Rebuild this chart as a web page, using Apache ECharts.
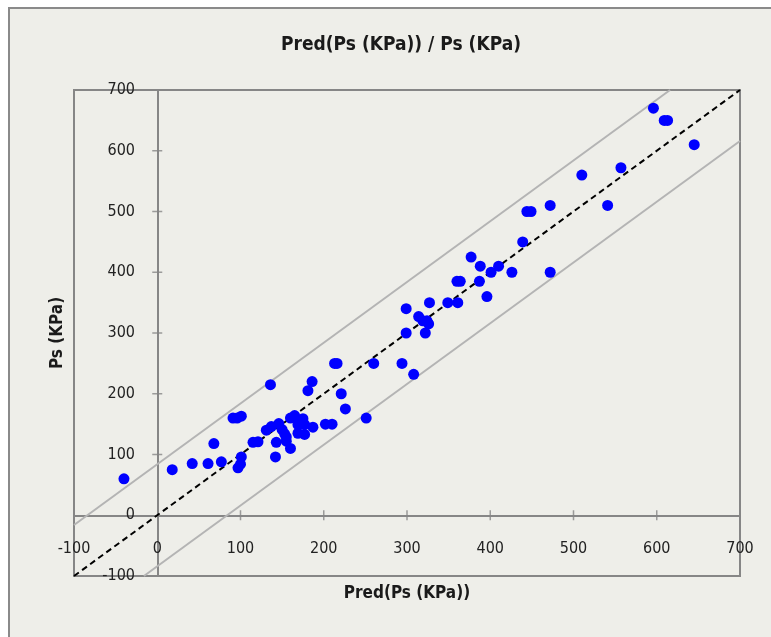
<!DOCTYPE html>
<html>
<head>
<meta charset="utf-8">
<script src="https://cdn.jsdelivr.net/npm/echarts@6/dist/echarts.min.js"></script>
<style>
html,body{margin:0;padding:0;background:#ffffff;}
#chart{width:771px;height:637px;}
</style>
</head>
<body>
<div id="chart"></div>
<script>
// Predicted vs measured Ps (KPa)
const predPs = [-40, 18, 42, 61, 68, 77, 91, 96, 101, 101, 100, 97, 115, 121, 131, 136, 137, 142, 143, 146, 150, 153, 155, 155, 160, 160, 165, 169, 169, 175, 177, 181, 177, 186, 187, 202, 210, 213, 216, 221, 226, 251, 260, 294, 308, 299, 299, 314, 319, 324, 322, 326, 327, 349, 360, 364, 361, 377, 387, 388, 396, 401, 410, 426, 439, 444, 449, 472, 472, 510, 541, 557, 596, 609, 613, 645];
const measPs = [60, 75, 85, 85, 118, 88, 160, 160, 163, 96, 84, 78, 120, 121, 140, 215, 146, 96, 120, 151, 141, 134, 122, 129, 110, 160, 164, 149, 135, 159, 133, 205, 149, 220, 145, 150, 150, 250, 250, 200, 175, 160, 250, 250, 232, 300, 340, 327, 320, 320, 300, 315, 350, 350, 385, 385, 350, 425, 385, 410, 360, 400, 410, 400, 450, 500, 500, 400, 510, 560, 510, 572, 670, 650, 650, 610];
const identityLine = [[-100, -100], [700, 700]];
const upperBound = [[-100, -16], [616, 700]];
const lowerBound = [[-16, -100], [700, 616]];
const axisTicks = [-100, 0, 100, 200, 300, 400, 500, 600, 700];
const crossTicks = [100, 200, 300, 400, 500, 600];

const points = predPs.map((x, i) => [x, measPs[i]]);
const xTickMarks = crossTicks.map(v => [v, 0]);
const yTickMarks = crossTicks.map(v => [0, v]);
const FONT = '"DejaVu Sans Condensed", "Liberation Sans Narrow", sans-serif';
const AX = '#868686';

const chart = echarts.init(document.getElementById('chart'), null, {renderer: 'canvas'});

chart.setOption({
  backgroundColor: '#ffffff',
  animation: false,
  graphic: [{
    type: 'rect', z: -100, zlevel: 0,
    shape: {x: 9, y: 8, width: 800, height: 700},
    style: {fill: '#EEEEE9', stroke: '#8a8a8a', lineWidth: 2},
    silent: true
  }],
  title: {
    text: 'Pred(Ps (KPa)) / Ps (KPa)',
    left: 276, top: 31,
    textStyle: {fontFamily: FONT, fontWeight: 'bold', fontSize: 19, color: '#1a1a1a'}
  },
  grid: {
    left: 74, right: 31, top: 90, bottom: 61,
    containLabel: false, outerBoundsMode: 'none',
    show: true, borderColor: AX, borderWidth: 2, backgroundColor: 'transparent'
  },
  xAxis: {
    type: 'value', min: axisTicks[0], max: axisTicks[axisTicks.length - 1], interval: 100,
    position: 'bottom',
    name: 'Pred(Ps (KPa))', nameLocation: 'middle', nameGap: 9,
    nameTextStyle: {fontFamily: FONT, fontWeight: 'bold', fontSize: 17, color: '#1a1a1a'},
    axisLine: {show: true, onZero: true, lineStyle: {color: AX, width: 2}},
    axisTick: {show: false},
    axisLabel: {margin: -35, fontFamily: FONT, fontSize: 16, color: '#222', formatter: v => String(v)},
    splitLine: {show: false}
  },
  yAxis: {
    type: 'value', min: axisTicks[0], max: axisTicks[axisTicks.length - 1], interval: 100,
    position: 'left',
    name: 'Ps (KPa)', nameLocation: 'middle', nameGap: 8, nameRotate: 90,
    nameTextStyle: {fontFamily: FONT, fontWeight: 'bold', fontSize: 17, color: '#1a1a1a'},
    axisLine: {show: true, onZero: true, lineStyle: {color: AX, width: 2}},
    axisTick: {show: false},
    axisLabel: {margin: -61, fontFamily: FONT, fontSize: 16, color: '#222', formatter: v => String(v)},
    splitLine: {show: false}
  },
  series: [
    {type: 'scatter', data: xTickMarks, symbol: 'rect', symbolSize: [1.5, 10], silent: true, z: 2,
      itemStyle: {color: AX}},
    {type: 'scatter', data: yTickMarks, symbol: 'rect', symbolSize: [10, 1.5], silent: true, z: 2,
      itemStyle: {color: AX}},
    {type: 'line', data: upperBound, symbol: 'none', silent: true, z: 3,
      lineStyle: {color: '#b4b4b4', width: 2}},
    {type: 'line', data: lowerBound, symbol: 'none', silent: true, z: 3,
      lineStyle: {color: '#b4b4b4', width: 2}},
    {type: 'line', data: identityLine, symbol: 'none', silent: true, z: 4,
      lineStyle: {color: '#000000', width: 2, type: [6, 4]}},
    {type: 'scatter', data: points, symbol: 'circle', symbolSize: 11, z: 5,
      itemStyle: {color: '#0000FF', opacity: 1}}
  ]
});
</script>
</body>
</html>
